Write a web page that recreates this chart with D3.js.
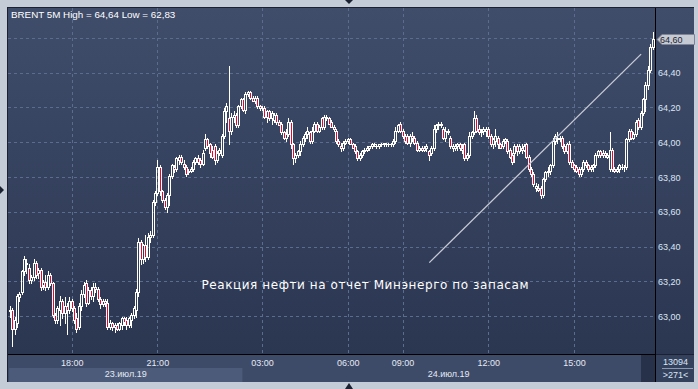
<!DOCTYPE html>
<html>
<head>
<meta charset="utf-8">
<script src="https://cdn.jsdelivr.net/npm/d3@7"></script>
<style>
html, body { margin: 0; padding: 0; background: #c4ccd8; }
svg { display: block; }
</style>
</head>
<body>
<div id="chart"></div>
<script>
/* -----------------------
data (BRENT 5M)
------------------------- */

var opens = [
63.03,63.04,62.93,62.96,63.11,63.14,63.26,63.30,63.28,63.21,
63.23,63.31,63.25,63.27,63.18,63.20,63.17,63.24,63.19,63.01,
62.98,63.04,63.09,63.02,63.06,63.04,63.09,63.05,62.99,62.94,
63.06,63.13,63.19,63.08,63.15,63.12,63.17,63.16,63.10,63.07,
63.09,63.08,62.94,62.96,62.94,62.95,62.93,62.95,62.99,62.98,
62.95,62.98,63.01,63.04,63.14,63.43,63.33,63.41,63.34,63.46,
63.47,63.66,63.71,63.86,63.72,63.67,63.63,63.70,63.81,63.86,
63.85,63.90,63.92,63.88,63.86,63.83,63.84,63.85,63.89,63.91,
63.90,63.88,63.97,64.02,63.99,63.96,63.98,63.90,63.94,63.93,
64.04,64.18,64.14,64.07,64.15,64.16,64.10,64.21,64.25,64.19,
64.28,64.29,64.26,64.24,64.26,64.21,64.20,64.20,64.15,64.18,
64.14,64.13,64.16,64.12,64.11,64.06,64.03,64.05,64.12,63.99,
63.91,63.93,63.95,63.99,64.03,64.05,64.06,64.01,64.07,64.11,
64.07,64.14,64.09,64.15,64.14,64.12,64.09,64.07,64.01,63.98,
63.97,64.00,64.01,64.02,63.99,63.98,63.95,63.91,63.93,63.95,
63.96,63.97,63.98,63.99,63.98,63.98,63.99,63.99,63.99,63.99,
63.99,63.99,64.01,64.07,64.11,64.07,64.04,64.04,64.00,64.04,
64.03,64.00,63.96,63.97,63.96,63.97,63.95,63.94,63.97,64.08,
64.10,64.11,64.08,64.03,64.07,64.03,63.97,63.97,63.98,63.99,
63.97,63.99,63.91,63.93,64.04,64.06,64.14,64.08,64.06,64.07,
64.07,64.08,64.04,63.99,64.01,64.03,63.99,63.98,64.01,64.01,
63.96,63.93,63.94,63.98,63.95,63.97,63.96,63.99,63.92,63.85,
63.82,63.74,63.74,63.74,63.70,63.79,63.83,63.84,63.87,64.01,
64.03,64.02,64.03,63.98,63.95,63.99,63.89,63.87,63.86,63.85,
63.82,63.85,63.89,63.87,63.85,63.86,63.87,63.93,63.95,63.93,
63.94,63.92,63.85,63.96,63.85,63.84,63.85,63.86,63.86,63.86,
64.02,64.07,64.03,64.05,64.13,64.09,64.17,64.25,64.33,64.42,
64.55];

var highs = [
63.06,63.05,63.00,63.13,63.14,63.27,63.35,63.33,63.30,63.24,
63.33,63.32,63.28,63.28,63.21,63.24,63.26,63.25,63.20,63.02,
63.06,63.12,63.10,63.11,63.08,63.11,63.10,63.06,63.02,63.08,
63.15,63.20,63.21,63.17,63.17,63.19,63.19,63.17,63.11,63.10,
63.10,63.10,62.98,62.97,62.96,62.96,62.97,63.00,63.00,63.00,
63.00,63.02,63.06,63.16,63.45,63.44,63.42,63.47,63.48,63.49,
63.67,63.72,63.90,63.87,63.73,63.68,63.71,63.82,63.88,63.87,
63.92,63.93,63.93,63.90,63.87,63.85,63.86,63.90,63.92,63.93,
63.91,63.96,64.05,64.03,64.00,63.98,63.99,63.95,63.97,64.05,
64.20,64.23,64.44,64.17,64.18,64.17,64.22,64.26,64.26,64.29,
64.30,64.30,64.27,64.27,64.27,64.22,64.21,64.21,64.19,64.19,
64.18,64.17,64.17,64.13,64.12,64.07,64.08,64.14,64.13,64.00,
63.94,63.96,64.01,64.04,64.06,64.09,64.07,64.09,64.12,64.12,
64.10,64.15,64.16,64.16,64.15,64.13,64.10,64.08,64.02,64.00,
64.01,64.02,64.03,64.03,64.00,63.99,63.96,63.94,63.96,63.97,
63.98,63.98,64.00,64.00,63.99,63.99,64.00,64.00,64.00,64.00,
64.00,64.02,64.09,64.11,64.12,64.08,64.05,64.05,64.05,64.06,
64.04,64.01,63.98,63.98,63.98,63.99,63.96,63.98,64.10,64.11,
64.12,64.12,64.09,64.09,64.08,64.04,63.99,63.99,64.00,64.00,
63.99,64.00,63.94,64.06,64.07,64.18,64.16,64.10,64.08,64.09,
64.09,64.09,64.05,64.03,64.08,64.04,64.00,64.02,64.03,64.02,
63.97,63.94,63.99,63.99,63.99,63.99,63.99,64.00,63.93,63.86,
63.83,63.77,63.76,63.75,63.80,63.84,63.86,63.88,64.03,64.05,
64.06,64.04,64.04,63.99,64.00,64.01,63.90,63.88,63.87,63.86,
63.86,63.90,63.90,63.88,63.87,63.88,63.94,63.96,63.96,63.96,
63.95,63.94,64.06,63.97,63.86,63.86,63.88,63.88,63.87,64.03,
64.08,64.08,64.06,64.13,64.14,64.18,64.26,64.35,64.44,64.57,
64.64];

var lows = [
63.00,62.83,62.90,62.94,63.09,63.13,63.24,63.25,63.19,63.19,
63.21,63.22,63.22,63.15,63.16,63.15,63.16,63.18,63.00,62.96,
62.96,62.95,62.99,62.96,62.90,63.02,63.03,62.96,62.91,62.93,
63.04,63.11,63.06,63.07,63.10,63.09,63.14,63.09,63.05,63.06,
63.06,62.93,62.93,62.92,62.91,62.92,62.92,62.93,62.95,62.93,
62.94,62.94,62.99,63.00,63.12,63.30,63.31,63.32,63.33,63.43,
63.46,63.64,63.70,63.70,63.66,63.62,63.60,63.64,63.80,63.83,
63.84,63.88,63.88,63.85,63.81,63.82,63.83,63.84,63.88,63.88,
63.86,63.87,63.96,63.97,63.92,63.91,63.88,63.89,63.93,63.92,
64.03,64.12,63.99,64.05,64.12,64.09,64.09,64.20,64.18,64.17,
64.27,64.25,64.24,64.23,64.20,64.19,64.19,64.14,64.12,64.13,
64.11,64.12,64.11,64.10,64.05,64.02,64.01,64.04,63.97,63.88,
63.89,63.92,63.93,63.98,64.01,64.03,64.00,64.00,64.06,64.06,
64.06,64.08,64.08,64.13,64.11,64.09,64.07,64.00,63.98,63.95,
63.96,63.99,64.00,63.99,63.97,63.94,63.90,63.90,63.92,63.94,
63.95,63.96,63.97,63.98,63.97,63.97,63.98,63.98,63.98,63.98,
63.98,63.98,64.00,64.06,64.06,64.03,64.00,63.99,63.98,64.01,
63.99,63.95,63.95,63.95,63.95,63.95,63.90,63.93,63.96,64.06,
64.08,64.09,64.02,64.01,64.05,63.97,63.95,63.96,63.96,63.96,
63.94,63.90,63.90,63.92,64.03,64.05,64.06,64.05,64.04,64.05,
64.04,64.03,63.98,63.97,63.98,63.97,63.97,63.97,64.00,63.94,
63.91,63.88,63.89,63.93,63.94,63.94,63.95,63.91,63.84,63.81,
63.75,63.72,63.72,63.68,63.69,63.78,63.81,63.82,63.86,63.99,
64.00,64.01,63.97,63.94,63.94,63.88,63.86,63.84,63.83,63.81,
63.81,63.84,63.86,63.84,63.84,63.84,63.86,63.92,63.92,63.92,
63.92,63.91,63.84,63.84,63.83,63.83,63.83,63.85,63.84,63.85,
64.01,64.02,64.02,64.04,64.08,64.08,64.16,64.18,64.31,64.41,
64.54];

var closes = [
63.04,62.93,62.98,63.12,63.13,63.26,63.33,63.31,63.21,63.23,
63.31,63.24,63.27,63.17,63.20,63.17,63.24,63.19,63.01,62.98,
63.05,63.09,63.02,63.06,63.04,63.09,63.05,62.98,62.93,63.06,
63.13,63.18,63.08,63.15,63.12,63.17,63.16,63.10,63.07,63.09,
63.08,62.94,62.96,62.94,62.95,62.93,62.96,62.99,62.97,62.95,
62.99,63.01,63.05,63.14,63.43,63.33,63.41,63.34,63.46,63.47,
63.66,63.71,63.86,63.72,63.67,63.63,63.70,63.81,63.87,63.85,
63.91,63.92,63.89,63.86,63.82,63.84,63.85,63.89,63.91,63.89,
63.88,63.94,64.02,63.98,63.94,63.92,63.90,63.94,63.96,64.04,
64.18,64.21,64.07,64.15,64.16,64.10,64.21,64.25,64.19,64.28,
64.29,64.26,64.24,64.26,64.21,64.20,64.20,64.15,64.18,64.14,
64.17,64.16,64.12,64.10,64.06,64.03,64.05,64.12,63.99,63.91,
63.93,63.95,63.99,64.03,64.05,64.07,64.01,64.07,64.11,64.07,
64.09,64.09,64.15,64.14,64.11,64.09,64.08,64.01,63.99,63.97,
64.00,64.01,64.02,63.99,63.97,63.95,63.91,63.93,63.95,63.96,
63.97,63.98,63.99,63.99,63.98,63.99,63.99,64.00,63.99,63.99,
63.99,64.01,64.07,64.10,64.07,64.04,64.01,64.00,64.04,64.03,
64.00,63.96,63.97,63.96,63.97,63.98,63.93,63.97,64.08,64.10,
64.11,64.10,64.03,64.07,64.06,63.98,63.98,63.98,63.99,63.97,
63.96,63.91,63.93,64.04,64.06,64.14,64.07,64.06,64.07,64.08,
64.08,64.04,63.99,64.02,64.04,63.99,63.97,64.01,64.02,63.95,
63.92,63.89,63.98,63.95,63.98,63.96,63.98,63.92,63.85,63.82,
63.76,63.75,63.73,63.70,63.79,63.83,63.84,63.87,64.01,64.04,
64.02,64.03,63.98,63.95,63.99,63.89,63.86,63.85,63.84,63.82,
63.85,63.89,63.87,63.85,63.86,63.87,63.93,63.95,63.93,63.94,
63.93,63.93,63.96,63.85,63.84,63.85,63.87,63.86,63.86,64.02,
64.07,64.03,64.05,64.12,64.09,64.17,64.25,64.33,64.42,64.55,
64.60];

var timeTickBars = [26, 62, 106, 142, 165, 201, 237];
var timeTickLabels = ["18:00", "21:00", "03:00", "06:00", "09:00", "12:00", "15:00"];
var dayStartBars = [0, 98];
var dayLabels = ["23.июл.19", "24.июл.19"];
var priceTicks = [63.0, 63.2, 63.4, 63.6, 63.8, 64.0, 64.2, 64.4, 64.6];
var lastPrice = 64.60;

var titleText = "BRENT 5M High = 64,64 Low = 62,83";
var noteText = "Реакция нефти на отчет Минэнерго по запасам";
var noteBar = 149, notePrice = 63.16;
var trendBars = [176, 265], trendPrices = [63.31, 64.51];
var volumeText = "13094", countText = ">271<";

/* -----------------------
main variables
------------------------- */

var width = 698, height = 389;
var plotL = 8, plotT = 8, plotR = 655, plotB = 354;
var axisR = 694, bottomB = 381;

var svg = d3.select("#chart")
    .append("svg")
    .attr("width", width)
    .attr("height", height)
    .style("font-family", "'Liberation Sans', Arial, sans-serif");

var x = d3.scaleBand()
    .domain(d3.range(opens.length))
    .range([9.1, 654.2])
    .padding(0);

var y = d3.scaleLinear()
    .domain([63.0, 64.6])
    .range([316.5, 38.5]);

function cx(i) { return x(i) + x.bandwidth() / 2; }
function fmt(v) { return d3.format(".2f")(v).replace(".", ","); }

/* -----------------------
frame
------------------------- */

var defs = svg.append("defs");
var grad = defs.append("linearGradient")
    .attr("id", "bg")
    .attr("gradientUnits", "userSpaceOnUse")
    .attr("x1", 0).attr("y1", plotT).attr("x2", 0).attr("y2", plotB);
grad.append("stop").attr("offset", "0%").attr("stop-color", "#3f4d6b");
grad.append("stop").attr("offset", "100%").attr("stop-color", "#2b3651");

defs.append("clipPath").attr("id", "clip")
    .append("rect")
    .attr("x", plotL).attr("y", plotT)
    .attr("width", plotR - plotL).attr("height", plotB - plotT);

svg.append("rect")
    .attr("width", width).attr("height", height)
    .attr("fill", "#c4ccd8");

// dark outline of the whole panel
svg.append("rect")
    .attr("x", plotL - 1).attr("y", plotT - 1)
    .attr("width", axisR - plotL + 1).attr("height", bottomB - plotT + 2)
    .attr("fill", "#1b2130");

svg.append("rect")
    .attr("x", plotL).attr("y", plotT)
    .attr("width", plotR - plotL).attr("height", plotB - plotT)
    .attr("fill", "url(#bg)");

svg.append("rect")
    .attr("x", plotR + 1).attr("y", plotT)
    .attr("width", axisR - plotR - 1).attr("height", plotB - plotT)
    .attr("fill", "url(#bg)");

// bottom time / date strip
svg.append("rect")
    .attr("x", plotL).attr("y", plotB + 1)
    .attr("width", plotR - plotL).attr("height", bottomB - plotB)
    .attr("fill", "#3e4b68");

svg.append("rect")
    .attr("x", plotR + 1).attr("y", plotB + 1)
    .attr("width", axisR - plotR - 1).attr("height", bottomB - plotB)
    .attr("fill", "#34415d");

/* -----------------------
grid
------------------------- */

var grid = svg.append("g").attr("class", "grid");

grid.selectAll("line.h")
    .data(priceTicks)
    .join("line")
    .attr("class", "h")
    .attr("x1", plotL).attr("x2", plotR)
    .attr("y1", function(d) { return Math.floor(y(d)) + 0.5; })
    .attr("y2", function(d) { return Math.floor(y(d)) + 0.5; })
    .attr("stroke", "#5c6c8c")
    .attr("stroke-dasharray", "3,3");

grid.selectAll("line.v")
    .data(timeTickBars)
    .join("line")
    .attr("class", "v")
    .attr("x1", function(d) { return Math.floor(cx(d)) + 0.5; })
    .attr("x2", function(d) { return Math.floor(cx(d)) + 0.5; })
    .attr("y1", plotT).attr("y2", plotB)
    .attr("stroke", "#5c6c8c")
    .attr("stroke-dasharray", "3,3");

/* -----------------------
candles
------------------------- */

var plot = svg.append("g")
    .attr("id", "candles")
    .attr("clip-path", "url(#clip)");

plot.selectAll("g")
    .data(d3.range(opens.length))
    .join("g")
    .each(function(i) {
        var g = d3.select(this);
        var a = Math.round(cx(i) - 1.5);
        var mid = a + 1.5;
        var yo = Math.round(y(opens[i])), yc = Math.round(y(closes[i]));
        var yh = Math.round(y(highs[i])), yl = Math.round(y(lows[i]));
        var top = Math.min(yo, yc), bot = Math.max(yo, yc);
        var down = closes[i] < opens[i];

        if (yh < top) {
            g.append("line")
                .attr("x1", mid).attr("x2", mid)
                .attr("y1", yh).attr("y2", top)
                .attr("stroke", "#fff");
        }
        if (yl > bot) {
            g.append("line")
                .attr("x1", mid).attr("x2", mid)
                .attr("y1", bot + 1).attr("y2", yl + 1)
                .attr("stroke", "#fff");
        }
        if (bot > top) {
            g.append("rect")
                .attr("x", a + 0.5).attr("y", top + 0.5)
                .attr("width", 2).attr("height", bot - top)
                .attr("fill", down ? "#e8082f" : "none")
                .attr("stroke", "#fff");
        } else {
            g.append("line")
                .attr("x1", a).attr("x2", a + 3)
                .attr("y1", top + 0.5).attr("y2", top + 0.5)
                .attr("stroke", "#fff");
        }
    });

/* -----------------------
annotation
------------------------- */

svg.append("line")
    .attr("x1", cx(trendBars[0])).attr("y1", y(trendPrices[0]))
    .attr("x2", cx(trendBars[1])).attr("y2", y(trendPrices[1]))
    .attr("stroke", "#c9ccd6")
    .attr("stroke-width", 1.3);

svg.append("text")
    .attr("x", cx(noteBar))
    .attr("y", y(notePrice))
    .attr("text-anchor", "middle")
    .attr("fill", "#ffffff")
    .attr("textLength", 327)
    .attr("lengthAdjust", "spacing")
    .style("font-family", "'DejaVu Sans', sans-serif")
    .style("font-size", "12px")
    .text(noteText);

svg.append("text")
    .attr("x", 11).attr("y", 18)
    .attr("fill", "#ffffff")
    .style("font-size", "9.8px")
    .text(titleText);

/* -----------------------
axes
------------------------- */

svg.append("line")
    .attr("x1", plotR + 0.5).attr("x2", plotR + 0.5)
    .attr("y1", plotT).attr("y2", bottomB + 1)
    .attr("stroke", "#000");
svg.append("line")
    .attr("x1", plotL).attr("x2", plotR)
    .attr("y1", plotB + 0.5).attr("y2", plotB + 0.5)
    .attr("stroke", "#000");

svg.append("g")
    .selectAll("text")
    .data(priceTicks.filter(function(d) { return d !== lastPrice; }))
    .join("text")
    .attr("x", plotR + 3)
    .attr("y", function(d) { return y(d); })
    .attr("dy", "0.35em")
    .attr("fill", "#dbe6f5")
    .style("font-size", "9px")
    .text(fmt);

// current price marker
var py = Math.round(y(lastPrice));
svg.append("path")
    .attr("d", "M" + (plotR + 2) + "," + (py + 0.5) +
        "L" + (plotR + 7) + "," + (py - 4.5) +
        "L" + (axisR + 0.5) + "," + (py - 4.5) +
        "L" + (axisR + 0.5) + "," + (py + 5.5) +
        "L" + (plotR + 7) + "," + (py + 5.5) + "Z")
    .attr("fill", "#c5cad3")
    .attr("stroke", "#7d8596");
svg.append("text")
    .attr("x", plotR + 5).attr("y", py + 0.5)
    .attr("dy", "0.35em")
    .attr("fill", "#1d2433")
    .style("font-size", "9px")
    .text(fmt(lastPrice));

// time row
svg.append("g")
    .selectAll("text")
    .data(timeTickBars)
    .join("text")
    .attr("x", function(d) { return cx(d); })
    .attr("y", 363)
    .attr("dy", "0.35em")
    .attr("text-anchor", "middle")
    .attr("fill", "#e4eaf4")
    .style("font-size", "9px")
    .text(function(d, i) { return timeTickLabels[i]; });

// date row
var dayEdges = dayStartBars.map(function(d) { return x(d); }).concat([plotR]);
svg.append("rect")
    .attr("x", dayEdges[0]).attr("y", 368)
    .attr("width", dayEdges[1] - dayEdges[0]).attr("height", bottomB - 368 + 1)
    .attr("fill", "#4c5b79");
svg.append("rect")
    .attr("x", 641).attr("y", plotB + 1)
    .attr("width", plotR - 641).attr("height", bottomB - plotB)
    .attr("fill", "#27324a");

svg.append("g")
    .selectAll("text")
    .data(dayLabels)
    .join("text")
    .attr("x", function(d, i) { return (dayEdges[i] + dayEdges[i + 1]) / 2; })
    .attr("y", 374)
    .attr("dy", "0.35em")
    .attr("text-anchor", "middle")
    .attr("fill", "#e4eaf4")
    .style("font-size", "9px")
    .text(function(d) { return d; });

// corner cell
svg.append("text")
    .attr("x", (plotR + axisR) / 2 + 1).attr("y", 362)
    .attr("dy", "0.35em")
    .attr("text-anchor", "middle")
    .attr("fill", "#dbe6f5")
    .style("font-size", "9px")
    .text(volumeText);
svg.append("line")
    .attr("x1", plotR + 7).attr("x2", axisR - 1)
    .attr("y1", 368.5).attr("y2", 368.5)
    .attr("stroke", "#8b98b0");
svg.append("text")
    .attr("x", (plotR + axisR) / 2 + 1).attr("y", 375)
    .attr("dy", "0.35em")
    .attr("text-anchor", "middle")
    .attr("fill", "#dbe6f5")
    .style("font-size", "9px")
    .text(countText);

/* -----------------------
scroll markers
------------------------- */

svg.append("path").attr("d", "M345,0L353,0L349,4Z").attr("fill", "#1b2130");
svg.append("path").attr("d", "M349,383L353,389L345,389Z").attr("fill", "#1b2130");
svg.append("path").attr("d", "M0,186L4,190L0,194Z").attr("fill", "#1b2130");
</script>
</body>
</html>
